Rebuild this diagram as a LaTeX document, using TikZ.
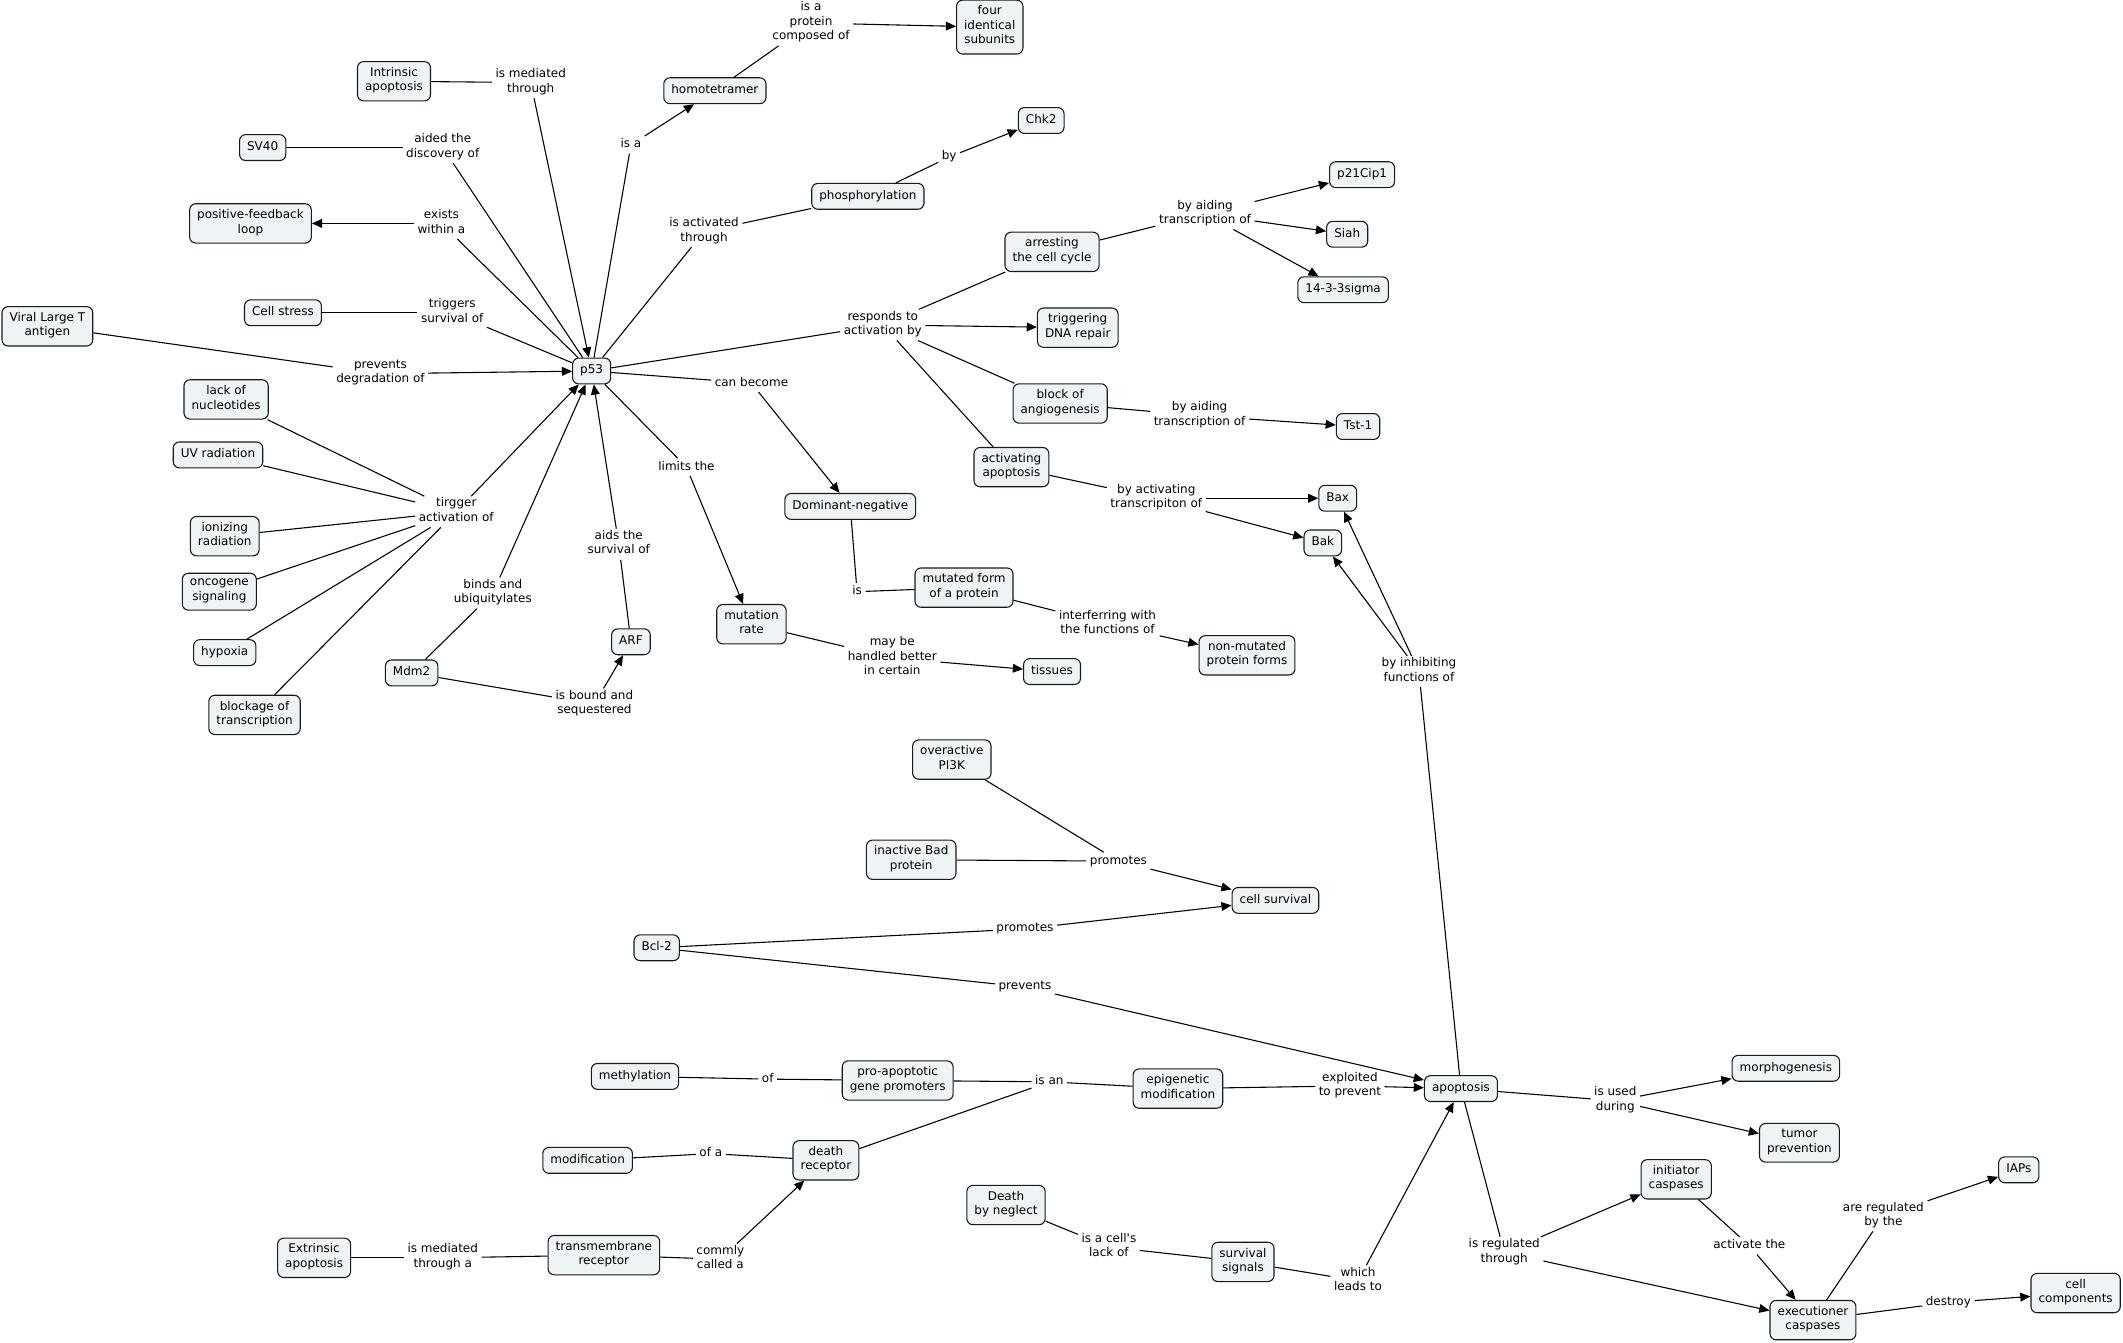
\documentclass[tikz,border=0pt]{standalone}
\usepackage{fontspec}
\setmainfont{DejaVu Sans}
\usetikzlibrary{arrows.meta}
\definecolor{boxfill}{RGB}{238,243,245}
\begin{document}
\begin{tikzpicture}[x=1pt,y=-1pt,
  every node/.style={font=\fontsize{8.86}{10.7}\selectfont},
  box/.style={draw=black!90, fill=boxfill, rounded corners=4.5pt, line width=0.8pt,
    align=center, inner xsep=5.6pt, inner ysep=4.2pt,
    execute at begin node=\strut, execute at end node=\strut},
  lp/.style={align=center, inner xsep=2.5pt, inner ysep=1pt,
    execute at begin node=\strut, execute at end node=\strut},
  conn/.style={line width=0.8pt, black},
  arr/.style={conn, -{Triangle[length=7.5pt,width=6.5pt]}}
]
\useasboundingbox (0,0) rectangle (1568,991.2);
% concepts
\node[box] (four) at (731,20) {four\\identical\\subunits};
\node[box] (homo) at (528,67) {homotetramer};
\node[box] (intr) at (291,60) {Intrinsic\\apoptosis};
\node[box] (sv40) at (194,109) {SV40};
\node[box] (chk2) at (769,89) {Chk2};
\node[box] (phos) at (641,145) {phosphorylation};
\node[box] (pfl) at (185,165) {positive-feedback\\loop};
\node[box] (p21) at (1006,129) {p21Cip1};
\node[box] (arr) at (777,186) {arresting\\the cell cycle};
\node[box] (siah) at (995,173) {Siah};
\node[box] (s1433) at (992,214) {14-3-3sigma};
\node[box] (cst) at (209,231) {Cell stress};
\node[box] (vlt) at (35,241) {Viral Large T\\antigen};
\node[box] (dna) at (796,242) {triggering\\DNA repair};
\node[box] (p53) at (437,274) {p53};
\node[box] (lon) at (167,295) {lack of\\nucleotides};
\node[box] (ang) at (783,298) {block of\\angiogenesis};
\node[box] (tst) at (1003,315) {Tst-1};
\node[box] (uv) at (161,336) {UV radiation};
\node[box] (actap) at (747,345) {activating\\apoptosis};
\node[box] (domneg) at (628,374) {Dominant-negative};
\node[box] (bax) at (988,368) {Bax};
\node[box] (bak) at (977,401) {Bak};
\node[box] (ion) at (166,396) {ionizing\\radiation};
\node[box] (onc) at (162,437) {oncogene\\signaling};
\node[box] (mut) at (712,434) {mutated form\\of a protein};
\node[box] (mrate) at (555,461) {mutation\\rate};
\node[box] (arf) at (466,474) {ARF};
\node[box] (nonmut) at (921,484) {non-mutated\\protein forms};
\node[box] (hyp) at (166,482) {hypoxia};
\node[box] (mdm2) at (304,497) {Mdm2};
\node[box] (tis) at (777,496) {tissues};
\node[box] (blk) at (188,528) {blockage of\\transcription};
\node[box] (pi3k) at (703,561) {overactive\\PI3K};
\node[box] (bad) at (673,635) {inactive Bad\\protein};
\node[box] (csurv) at (942,665) {cell survival};
\node[box] (bcl2) at (485,700) {Bcl-2};
\node[box] (morph) at (1319,789) {morphogenesis};
\node[box] (meth) at (469,795) {methylation};
\node[box] (proap) at (663,798) {pro-apoptotic\\gene promoters};
\node[box] (epi) at (870,804) {epigenetic\\modification};
\node[box] (apop) at (1079,804) {apoptosis};
\node[box] (tumor) at (1329,844) {tumor\\prevention};
\node[box] (modif) at (434,857) {modification};
\node[box] (dr) at (610,857) {death\\receptor};
\node[box] (init) at (1238,871) {initiator\\caspases};
\node[box] (iaps) at (1491,864) {IAPs};
\node[box] (dbn) at (743,890) {Death\\by neglect};
\node[box] (extr) at (232,929) {Extrinsic\\apoptosis};
\node[box] (tmr) at (446,927) {transmembrane\\receptor};
\node[box] (ssig) at (918,932) {survival\\signals};
\node[box] (exec) at (1339,975) {executioner\\caspases};
\node[box] (ccomp) at (1533,955) {cell\\components};
% linking phrases
\node[lp] (l1) at (599,17) {is a\\protein\\composed of};
\node[lp] (l2) at (392,61) {is mediated\\through};
\node[lp] (l3) at (466,107) {is a};
\node[lp] (l4) at (327,109) {aided the\\discovery of};
\node[lp] (l5) at (701,116) {by};
\node[lp] (l6) at (326,165) {exists\\within a};
\node[lp] (l7) at (520,171) {is activated\\through};
\node[lp] (l8) at (890,158) {by aiding\\transcription of};
\node[lp] (l9) at (334,231) {triggers\\survival of};
\node[lp] (l10) at (652,240) {responds to\\activation by};
\node[lp] (l11) at (281,276) {prevents\\degradation of};
\node[lp] (l12) at (555,283) {can become};
\node[lp] (l13) at (886,307) {by aiding\\transcription of};
\node[lp] (l14) at (507,345) {limits the};
\node[lp] (l15) at (337,378) {tirgger\\activation of};
\node[lp] (l16) at (854,368) {by activating\\transcripiton of};
\node[lp] (l17) at (457,402) {aids the\\survival of};
\node[lp] (l18) at (364,438) {binds and\\ubiquitylates};
\node[lp] (l19) at (633,437) {is};
\node[lp] (l20) at (818,461) {interferring with\\the functions of};
\node[lp] (l21) at (1048,496) {by inhibiting\\functions of};
\node[lp] (l22) at (659,486) {may be\\handled better\\in certain};
\node[lp] (l23) at (439,520) {is bound and\\sequestered};
\node[lp] (l24) at (826,636) {promotes};
\node[lp] (l25) at (757,686) {promotes};
\node[lp] (l26) at (757,729) {prevents};
\node[lp] (l27) at (567,797) {of};
\node[lp] (l28) at (775,799) {is an};
\node[lp] (l29) at (997,802) {exploited\\to prevent};
\node[lp] (l30) at (1193,813) {is used\\during};
\node[lp] (l31) at (525,852) {of a};
\node[lp] (l32) at (819,921) {is a cell\textquotesingle s\\lack of};
\node[lp] (l33) at (327,929) {is mediated\\through a};
\node[lp] (l34) at (532,930) {commly\\called a};
\node[lp] (l35) at (1003,946) {which\\leads to};
\node[lp] (l36) at (1111,925) {is regulated\\through};
\node[lp] (l37) at (1292,920) {activate the};
\node[lp] (l38) at (1391,898) {are regulated\\by the};
\node[lp] (l39) at (1439,962) {destroy};
% connectors
\draw[conn] (homo) -- (l1); \draw[arr] (l1) -- (four);
\draw[conn] (intr) -- (l2); \draw[arr] (l2) -- (p53);
\draw[conn] (p53) -- (l3); \draw[arr] (l3) -- (homo);
\draw[conn] (sv40) -- (l4); \draw[conn] (l4) -- (p53);
\draw[conn] (phos) -- (l5); \draw[arr] (l5) -- (chk2);
\draw[conn] (p53) -- (l6); \draw[arr] (l6) -- (pfl);
\draw[conn] (p53) -- (l7); \draw[conn] (l7) -- (phos);
\draw[conn] (arr) -- (l8); \draw[arr] (l8) -- (p21); \draw[arr] (l8) -- (siah); \draw[arr] (l8) -- (s1433);
\draw[conn] (cst) -- (l9); \draw[conn] (l9) -- (p53);
\draw[conn] (p53) -- (l10); \draw[conn] (l10) -- (arr); \draw[arr] (l10) -- (dna);
\draw[conn] (l10) -- (ang); \draw[conn] (l10) -- (actap);
\draw[conn] (vlt) -- (l11); \draw[arr] (l11) -- (p53);
\draw[conn] (p53) -- (l12); \draw[arr] (l12) -- (domneg);
\draw[conn] (ang) -- (l13); \draw[arr] (l13) -- (tst);
\draw[conn] (p53) -- (l14); \draw[arr] (l14) -- (mrate);
\draw[conn] (lon) -- (l15); \draw[conn] (uv) -- (l15); \draw[conn] (ion) -- (l15);
\draw[conn] (onc) -- (l15); \draw[conn] (hyp) -- (l15); \draw[conn] (blk) -- (l15);
\draw[arr] (l15) -- (p53);
\draw[conn] (actap) -- (l16); \draw[arr] (l16) -- (bax); \draw[arr] (l16) -- (bak);
\draw[conn] (arf) -- (l17); \draw[arr] (l17) -- (p53);
\draw[conn] (mdm2) -- (l18); \draw[arr] (l18) -- (p53);
\draw[conn] (domneg) -- (l19); \draw[conn] (l19) -- (mut);
\draw[conn] (mut) -- (l20); \draw[arr] (l20) -- (nonmut);
\draw[conn] (apop) -- (l21); \draw[arr] (l21) -- (bax); \draw[arr] (l21) -- (bak);
\draw[conn] (mrate) -- (l22); \draw[arr] (l22) -- (tis);
\draw[conn] (mdm2) -- (l23); \draw[arr] (l23) -- (arf);
\draw[conn] (pi3k) -- (l24); \draw[conn] (bad) -- (l24); \draw[arr] (l24) -- (csurv);
\draw[conn] (bcl2) -- (l25); \draw[arr] (l25) -- (csurv);
\draw[conn] (bcl2) -- (l26); \draw[arr] (l26) -- (apop);
\draw[conn] (meth) -- (l27); \draw[conn] (l27) -- (proap);
\draw[conn] (proap) -- (l28); \draw[conn] (dr) -- (l28); \draw[conn] (l28) -- (epi);
\draw[conn] (epi) -- (l29); \draw[arr] (l29) -- (apop);
\draw[conn] (apop) -- (l30); \draw[arr] (l30) -- (morph); \draw[arr] (l30) -- (tumor);
\draw[conn] (modif) -- (l31); \draw[conn] (l31) -- (dr);
\draw[conn] (dbn) -- (l32); \draw[conn] (l32) -- (ssig);
\draw[conn] (extr) -- (l33); \draw[conn] (l33) -- (tmr);
\draw[conn] (tmr) -- (l34); \draw[arr] (l34) -- (dr);
\draw[conn] (ssig) -- (l35); \draw[arr] (l35) -- (apop);
\draw[conn] (apop) -- (l36); \draw[arr] (l36) -- (init); \draw[arr] (l36) -- (exec);
\draw[conn] (init) -- (l37); \draw[arr] (l37) -- (exec);
\draw[conn] (exec) -- (l38); \draw[arr] (l38) -- (iaps);
\draw[conn] (exec) -- (l39); \draw[arr] (l39) -- (ccomp);
\end{tikzpicture}
\end{document}
